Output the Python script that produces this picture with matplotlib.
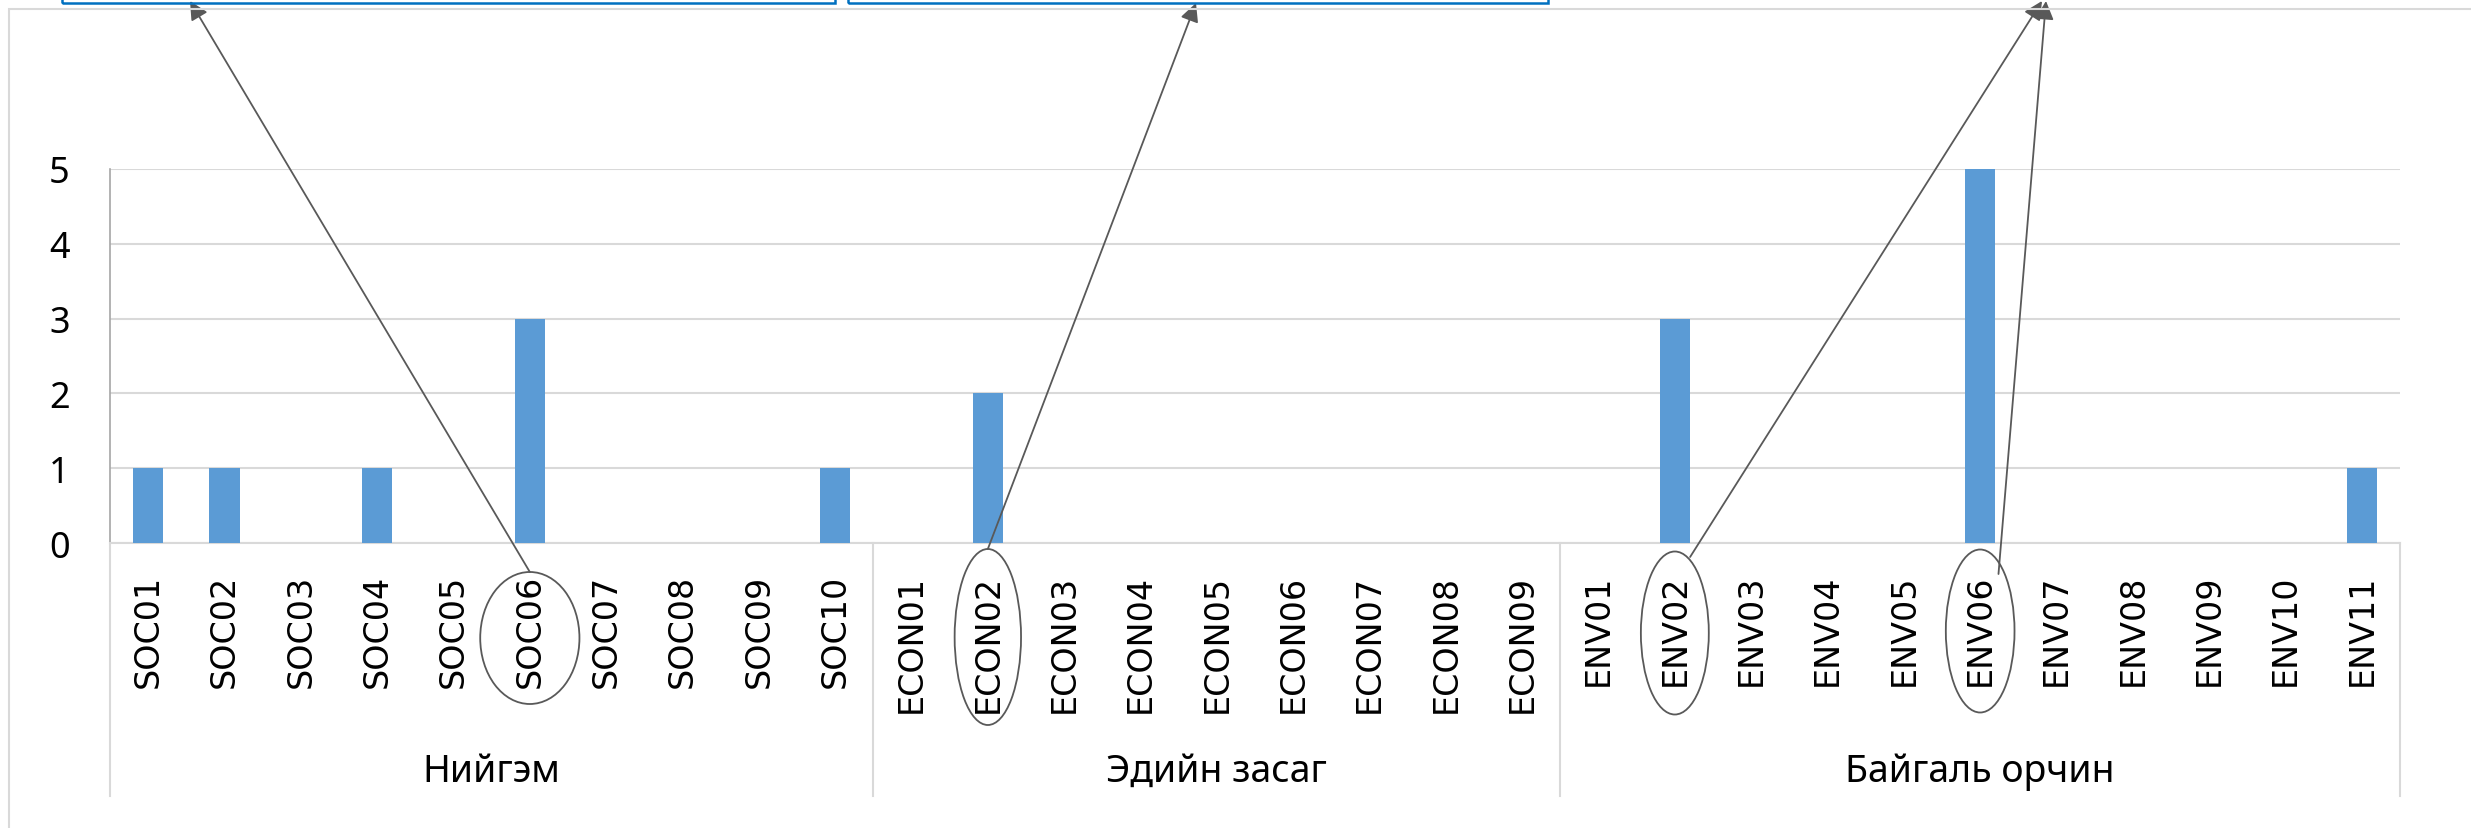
import matplotlib
matplotlib.use("Agg")
import matplotlib.pyplot as plt
import matplotlib.transforms as mtransforms
from matplotlib.patches import Ellipse, Rectangle
import numpy as np

# data
soc_labels = ["SOC01", "SOC02", "SOC03", "SOC04", "SOC05",
              "SOC06", "SOC07", "SOC08", "SOC09", "SOC10"]
soc_values = [1, 1, 0, 1, 0, 3, 0, 0, 0, 1]
econ_labels = ["ECON01", "ECON02", "ECON03", "ECON04", "ECON05",
               "ECON06", "ECON07", "ECON08", "ECON09"]
econ_values = [0, 2, 0, 0, 0, 0, 0, 0, 0]
env_labels = ["ENV01", "ENV02", "ENV03", "ENV04", "ENV05", "ENV06",
              "ENV07", "ENV08", "ENV09", "ENV10", "ENV11"]
env_values = [0, 3, 0, 0, 0, 5, 0, 0, 0, 0, 1]
group_names = ["Нийгэм", "Эдийн засаг", "Байгаль орчин"]

# circled labels: (label, ellipse width in categories, height px, centre px)
circled = [("SOC06", 1.3, 132, 639), ("ECON02", 0.87, 176, 638),
           ("ENV02", 0.89, 163, 634), ("ENV06", 0.9, 163, 632)]

labels = soc_labels + econ_labels + env_labels
values = soc_values + econ_values + env_values
group_sizes = [len(soc_labels), len(econ_labels), len(env_labels)]

W, H = 2471, 829
fig = plt.figure(figsize=(W / 100, H / 100), dpi=100)


def fx(px):
    return px / W


def fy(py):
    return 1 - py / H


# plot area: x 110..2400, y 170..544 px
ax = fig.add_axes([fx(110), fy(544), fx(2400) - fx(110), fy(170) - fy(544)])

x = np.arange(len(labels))
ax.bar(x, values, width=0.4, color="#5B9BD5", zorder=3)
ax.set_xlim(-0.5, len(labels) - 0.5)
ax.set_ylim(0, 5)
ax.set_yticks(range(0, 6))
ax.grid(axis="y", color="#D9D9D9", lw=1.5, zorder=0)
ax.set_axisbelow(True)

ax.set_xticks(x)
ax.set_xticklabels(labels, rotation=90, fontsize=24, family="DejaVu Sans",
                   rotation_mode="anchor", ha="right", va="center")
ax.tick_params(axis="x", length=0, pad=22)
ax.tick_params(axis="y", length=0, pad=29, labelsize=26)
for t in ax.get_yticklabels():
    t.set_family("Noto Sans")

for s in ["top", "right"]:
    ax.spines[s].set_visible(False)
ax.spines["left"].set_color("#A6A6A6")
ax.spines["left"].set_linewidth(1.2)
ax.spines["bottom"].set_color("#D9D9D9")
ax.spines["bottom"].set_linewidth(1.5)

# multi-level category axis: separators and group names
sep_tr = mtransforms.blended_transform_factory(ax.transData, fig.transFigure)
bounds = np.concatenate([[0], np.cumsum(group_sizes)]) - 0.5
for b in bounds:
    ax.plot([b, b], [fy(544), fy(797)], transform=sep_tr, color="#D9D9D9",
            lw=1.5, clip_on=False)
for i, name in enumerate(group_names):
    ax.text((bounds[i] + bounds[i + 1]) / 2, fy(772), name, transform=sep_tr,
            ha="center", va="center", fontsize=27, family="Noto Sans")

# ellipses around the highlighted labels
for lab, w, h, cy in circled:
    i = labels.index(lab)
    e = Ellipse((i, fy(cy)), w, h / H, transform=sep_tr, fill=False,
                edgecolor="#595959", lw=1.3, clip_on=False, zorder=5)
    ax.add_artist(e)

# arrows from the circled labels up to the boxes (start in data x / fig y)
arrows = [(5.0, 573, 190, 2), (11.0, 550, 1196, 4),
          (20.2, 558, 2042, 2), (24.24, 575, 2046, 2)]
for sx, sy, ex, ey in arrows:
    ax.annotate("", xy=(fx(ex), fy(ey)), xycoords="figure fraction",
                xytext=(sx, fy(sy)), textcoords=sep_tr,
                arrowprops=dict(arrowstyle="-|>", mutation_scale=28,
                                lw=1.3, color="#595959",
                                shrinkA=0, shrinkB=0),
                annotation_clip=False)

# chart border and the text boxes cut off at the top
fig.patches.append(Rectangle((fx(9), fy(H + 20)), fx(W + 20) - fx(9),
                             fy(10) - fy(H + 20), transform=fig.transFigure,
                             fill=False, edgecolor="#D9D9D9", lw=1.5))
for x0, x1 in [(62, 835), (848, 1548)]:
    fig.patches.append(Rectangle((fx(x0), fy(4)), fx(x1) - fx(x0),
                                 fy(-30) - fy(4), transform=fig.transFigure,
                                 fill=False, edgecolor="#0070C0", lw=1.8))

plt.savefig("out.png", dpi=100)
